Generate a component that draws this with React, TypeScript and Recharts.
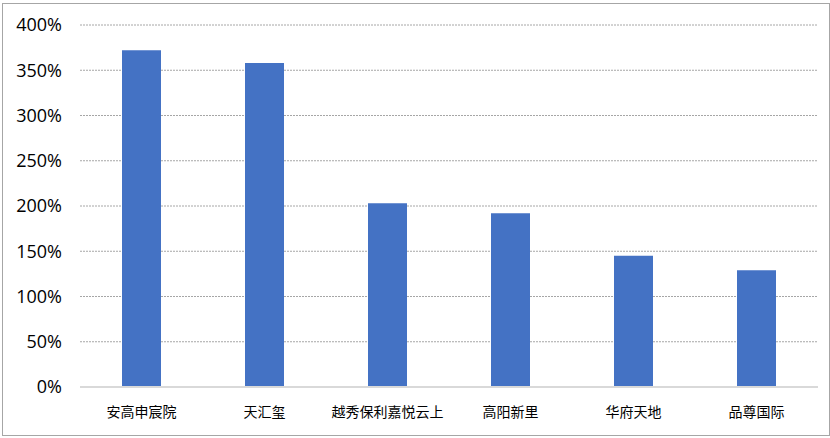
import { BarChart, Bar, XAxis, YAxis, CartesianGrid } from 'recharts'

// project names along the x axis
const projects = ['安高申宸院', '天汇玺', '越秀保利嘉悦云上', '高阳新里', '华府天地', '品尊国际']
// ratio in percent
const ratios = [372, 358, 203, 192, 145, 129]
const yTicks = [0, 50, 100, 150, 200, 250, 300, 350, 400]

const data = projects.map((name, i) => ({ name, value: ratios[i] }))

export default function App() {
  return (
    <div style={{ position: 'fixed', left: 0, top: 0, width: 830, height: 438, background: '#fff' }}>
      <div
        style={{
          position: 'absolute',
          left: 2,
          top: 3,
          width: 826,
          height: 431,
          border: '1px solid #a6a6a6',
        }}
      />
      <div style={{ position: 'absolute', left: 0, top: 0 }}>
        <BarChart
          width={830}
          height={438}
          data={data}
          margin={{ top: 25, right: 12, bottom: 0, left: 0 }}
          barSize={39}
          style={{ fontFamily: '"Noto Sans CJK SC", "Noto Sans", sans-serif' }}
        >
          <CartesianGrid vertical={false} stroke="#a6a6a6" strokeDasharray="2 1" />
          <XAxis
            dataKey="name"
            height={51}
            axisLine={{ stroke: '#d9d9d9', strokeWidth: 2 }}
            tickLine={false}
            tickMargin={14}
            interval={0}
            tick={{ fill: '#000', fontSize: 14 }}
          />
          <YAxis
            width={80}
            domain={[0, 400]}
            ticks={yTicks}
            axisLine={false}
            tickLine={false}
            tickMargin={12}
            tickFormatter={(v) => `${v}%`}
            tick={{ fill: '#000', fontSize: 18, fontFamily: '"Open Sans", "Noto Sans", sans-serif' }}
          />
          <Bar dataKey="value" fill="#4472c4" isAnimationActive={false} />
        </BarChart>
      </div>
    </div>
  )
}
